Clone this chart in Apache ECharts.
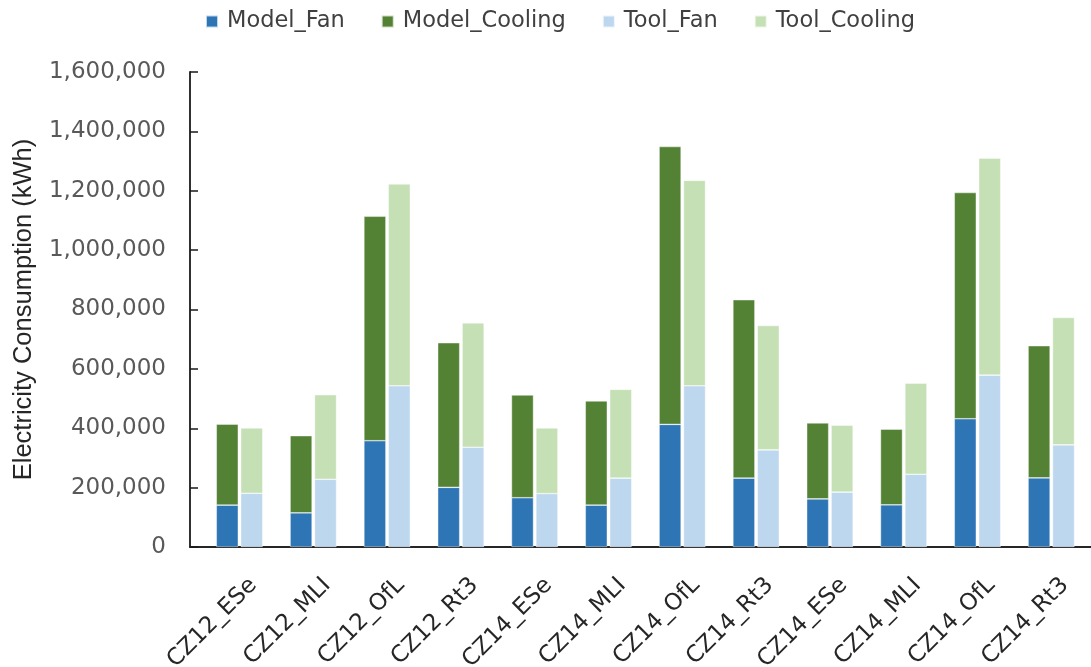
<!DOCTYPE html>
<html>
<head>
<meta charset="utf-8">
<script src="https://cdn.jsdelivr.net/npm/echarts@6/dist/echarts.min.js"></script>
<style>
  html, body { margin: 0; padding: 0; background: #fff; }
  #chart { width: 1091px; height: 667px; }
</style>
</head>
<body>
<div id="chart"></div>
<script>
// Building cases (climate zone + building type)
const categories = ['CZ12_ESe', 'CZ12_MLI', 'CZ12_OfL', 'CZ12_Rt3', 'CZ14_ESe', 'CZ14_MLI',
                    'CZ14_OfL', 'CZ14_Rt3', 'CZ14_ESe', 'CZ14_MLI', 'CZ14_OfL', 'CZ14_Rt3'];

// Annual electricity (kWh), fan and cooling components
const modelFan     = [141000, 115000, 358000, 201000, 166000, 141000, 413000, 232000, 162000, 142000, 432000, 233000];
const modelCooling = [273000, 260000, 756000, 487000, 346000, 351000, 936000, 601000, 256000, 255000, 762000, 445000];
const toolFan      = [181000, 228000, 543000, 336000, 180000, 232000, 543000, 327000, 185000, 245000, 579000, 344000];
const toolCooling  = [220000, 285000, 680000, 419000, 221000, 299000, 692000, 419000, 225000, 307000, 731000, 429000];

const yMin = 0, yMax = 1600000, yStep = 200000;

const chart = echarts.init(document.getElementById('chart'), null, { renderer: 'canvas' });

const fmt = v => v.toLocaleString('en-US');
const barBase = { type: 'bar', barWidth: 22, barGap: '11%',
                  itemStyle: { borderColor: 'rgba(255,255,255,0.7)', borderWidth: 0.6 } };

chart.setOption({
  animation: false,
  textStyle: { fontFamily: 'DejaVu Sans' },
  legend: {
    left: 200, top: 5,
    itemWidth: 12, itemHeight: 12, itemGap: 36,
    icon: 'rect',
    textStyle: { fontSize: 22.5, color: '#404040', fontFamily: 'DejaVu Sans', padding: [0, 0, 0, 4] },
    data: ['Model_Fan', 'Model_Cooling', 'Tool_Fan', 'Tool_Cooling']
  },
  grid: [
    { left: 202.6, right: 2.8, top: 72, bottom: 120, containLabel: false, outerBoundsMode: 'none' },
    { left: 190, right: 0, top: 72, bottom: 120, containLabel: false, outerBoundsMode: 'none' }
  ],
  xAxis: [
    {
      type: 'category', gridIndex: 0, data: categories,
      axisLine: { show: false },
      axisTick: { show: false },
      axisLabel: { rotate: 45, fontSize: 23, color: '#262626', margin: 21,
                   verticalAlign: 'top', padding: [8, 0, 0, 0], fontFamily: 'DejaVu Sans' }
    },
    {
      type: 'value', gridIndex: 1, min: 0, max: 1,
      axisLine: { show: true, lineStyle: { color: '#262626', width: 2 } },
      axisTick: { show: false }, axisLabel: { show: false }, splitLine: { show: false }
    }
  ],
  yAxis: [
    {
      type: 'value', gridIndex: 0, min: yMin, max: yMax, interval: yStep,
      offset: 12.6,
      name: 'Electricity Consumption (kWh)',
      nameLocation: 'middle', nameGap: 153,
      nameTextStyle: { fontSize: 25.5, color: '#262626', fontFamily: 'Liberation Sans' },
      axisLine: { show: true, lineStyle: { color: '#1a1a1a', width: 1.8 } },
      axisTick: { show: true, inside: true, length: 8, lineStyle: { color: '#1a1a1a', width: 1.5 } },
      axisLabel: { fontSize: 23, color: '#595959', margin: 24, formatter: fmt, fontFamily: 'DejaVu Sans' },
      splitLine: { show: false }
    },
    { type: 'value', gridIndex: 1, show: false, min: 0, max: 1 }
  ],
  series: [
    Object.assign({}, barBase, { name: 'Model_Fan', stack: 'model', data: modelFan,
      itemStyle: Object.assign({}, barBase.itemStyle, { color: '#2E75B6' }) }),
    Object.assign({}, barBase, { name: 'Model_Cooling', stack: 'model', data: modelCooling,
      itemStyle: Object.assign({}, barBase.itemStyle, { color: '#548235' }) }),
    Object.assign({}, barBase, { name: 'Tool_Fan', stack: 'tool', data: toolFan,
      itemStyle: Object.assign({}, barBase.itemStyle, { color: '#BDD7EE' }) }),
    Object.assign({}, barBase, { name: 'Tool_Cooling', stack: 'tool', data: toolCooling,
      itemStyle: Object.assign({}, barBase.itemStyle, { color: '#C5E0B4' }) })
  ]
});
</script>
</body>
</html>
